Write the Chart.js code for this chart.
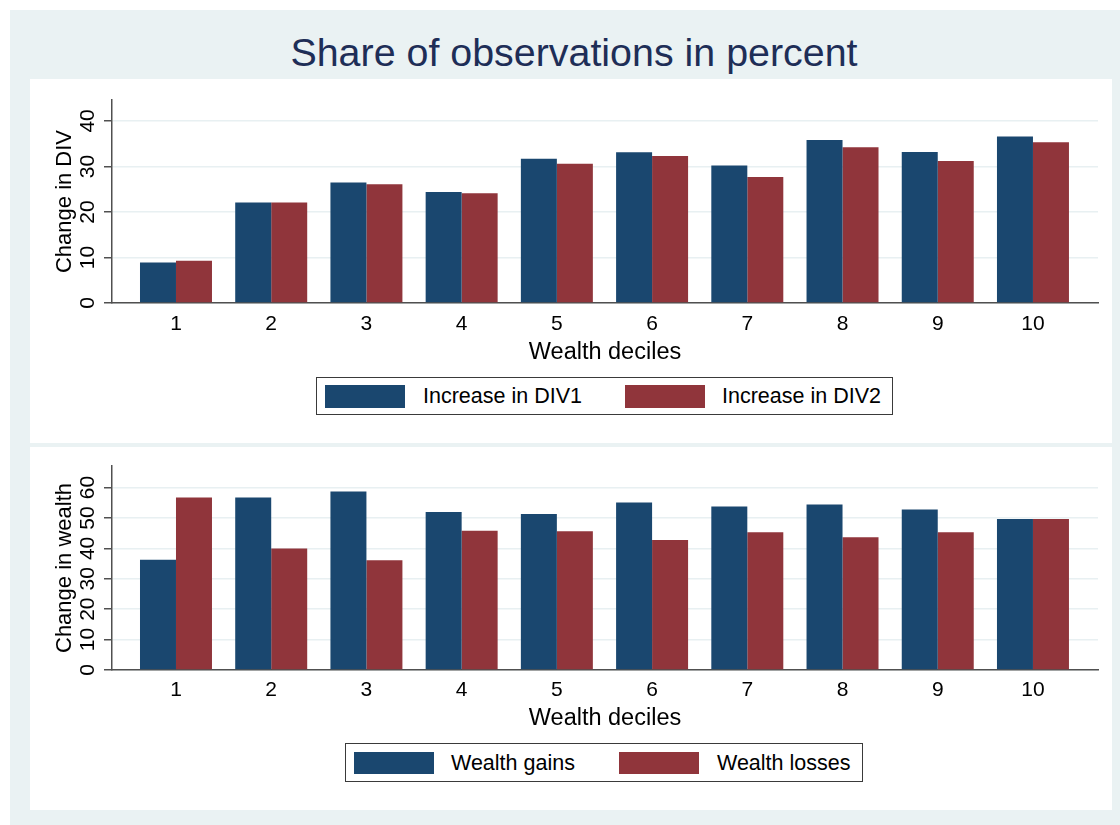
<!DOCTYPE html>
<html>
<head>
<meta charset="utf-8">
<script src="https://cdn.jsdelivr.net/npm/chart.js@4.4.1/dist/chart.umd.min.js"></script>
<style>
html,body{margin:0;padding:0;background:#fff;width:1120px;height:825px;overflow:hidden;font-family:"Liberation Sans",Arial,sans-serif;}
#outer{position:absolute;left:10px;top:10px;width:1110px;height:815px;background:#eaf2f3;}
#title{position:absolute;left:0;top:33px;width:1148px;text-align:center;font-size:39.4px;line-height:39px;color:#1e2e57;white-space:nowrap;}
.panel{position:absolute;left:30px;width:1082px;background:#fff;}
.panel canvas{position:absolute;left:0;top:0;}
.lgbox{position:absolute;box-sizing:border-box;border:1.5px solid #3a3a3a;background:#fff;}
.sw{position:absolute;}
.lt{position:absolute;font-size:21.5px;line-height:24px;color:#000;white-space:nowrap;}
</style>
</head>
<body>
<div id="outer"></div>
<div id="title">Share of observations in percent</div>
<div class="panel" id="p1" style="top:79px;height:364px;"><canvas id="c1" width="1082" height="364"></canvas></div>
<div class="panel" id="p2" style="top:447px;height:363px;"><canvas id="c2" width="1082" height="363"></canvas></div>
<div id="legends"></div>
<script>
// ---- data ----
const deciles = ['1','2','3','4','5','6','7','8','9','10'];
const divSeries = ['Increase in DIV1', 'Increase in DIV2'];
const div1 = [8.9, 22.1, 26.5, 24.4, 31.7, 33.1, 30.2, 35.8, 33.2, 36.6];
const div2 = [9.3, 22.1, 26.1, 24.1, 30.6, 32.3, 27.7, 34.2, 31.2, 35.3];
const wealthSeries = ['Wealth gains', 'Wealth losses'];
const gains  = [36.3, 56.7, 58.7, 52.0, 51.3, 55.1, 53.8, 54.4, 52.8, 49.7];
const losses = [56.7, 40.0, 36.1, 45.8, 45.6, 42.8, 45.3, 43.7, 45.3, 49.7];
const divTicks = [0, 10, 20, 30, 40];
const wealthTicks = [0, 10, 20, 30, 40, 50, 60];

const BLUE = '#1a476f', RED = '#90353b';
const AXIS = '#505050', GRID = '#e8f0f2';
Chart.defaults.font.family = '"Liberation Sans", Arial, sans-serif';
Chart.defaults.color = '#000';

function makeChart(id, names, s1, s2, yTicks, yMax, yTitle, lay) {
  const mk = (arr) => arr.map((v, i) => ({x: i + 1, y: v}));
  return new Chart(document.getElementById(id), {
    type: 'bar',
    data: {
      datasets: [
        {label: names[0], data: mk(s1), backgroundColor: BLUE, borderWidth: 0, categoryPercentage: 0.756, barPercentage: 1},
        {label: names[1], data: mk(s2), backgroundColor: RED, borderWidth: 0, categoryPercentage: 0.756, barPercentage: 1}
      ]
    },
    options: {
      responsive: false, animation: false, events: [],
      layout: {padding: {left: 0, top: lay.top, right: 14, bottom: lay.bottom}},
      plugins: {legend: {display: false}, tooltip: {enabled: false}},
      scales: {
        x: {
          type: 'linear', min: 0.328, max: 10.683, offset: false,
          afterBuildTicks: s => { s.ticks = deciles.map((d, i) => ({value: i + 1})); },
          ticks: {callback: (v, i) => deciles[i], padding: lay.xpad, font: {size: 21}, color: '#000', maxRotation: 0, minRotation: 0, autoSkip: false},
          grid: {display: false, drawTicks: false},
          border: {display: true, color: AXIS, width: 1.5},
          title: {display: true, text: 'Wealth deciles', font: {size: 23.5}, color: '#000', padding: 0},
          afterFit: s => { s.height = lay.xh; }
        },
        y: {
          type: 'linear', min: 0, max: yMax,
          afterBuildTicks: s => { s.ticks = yTicks.map(v => ({value: v})); },
          ticks: {minRotation: 90, maxRotation: 90, crossAlign: 'center', padding: 4, font: {size: 21}, color: '#000'},
          grid: {color: GRID, lineWidth: 1.5, tickLength: 8, tickColor: AXIS, tickWidth: 1.5},
          border: {display: true, color: AXIS, width: 1.5},
          title: {display: true, text: yTitle, font: {size: 22}, color: '#000', padding: {top: 22, bottom: 0}},
          afterFit: s => { s.width = 82; }
        }
      }
    }
  });
}

makeChart('c1', divSeries, div1, div2, divTicks, 44.6, 'Change in DIV', {top: 21, bottom: 76.5, xh: 63.5, xpad: 9});
makeChart('c2', wealthSeries, gains, losses, wealthTicks, 67.1, 'Change in wealth', {top: 19, bottom: 77.7, xh: 62.3, xpad: 8});

// ---- legends (HTML, real text) ----
function makeLegend(names, colors, box, sw, txt) {
  const host = document.getElementById('legends');
  const b = document.createElement('div');
  b.className = 'lgbox';
  Object.assign(b.style, {left: box[0] + 'px', top: box[1] + 'px', width: box[2] + 'px', height: box[3] + 'px'});
  host.appendChild(b);
  names.forEach((n, i) => {
    const s = document.createElement('div');
    s.className = 'sw';
    Object.assign(s.style, {left: sw[i] + 'px', top: sw[2] + 'px', width: '80px', height: sw[3] + 'px', background: colors[i]});
    host.appendChild(s);
    const t = document.createElement('div');
    t.className = 'lt';
    t.textContent = n;
    Object.assign(t.style, {left: txt[i] + 'px', top: txt[2] + 'px'});
    host.appendChild(t);
  });
}
makeLegend(divSeries, [BLUE, RED], [316, 377, 577, 38], [325, 625, 385, 23], [423, 722, 384]);
makeLegend(wealthSeries, [BLUE, RED], [345, 743, 518, 39], [354, 619, 752, 22], [451, 717, 751]);
</script>
</body>
</html>
